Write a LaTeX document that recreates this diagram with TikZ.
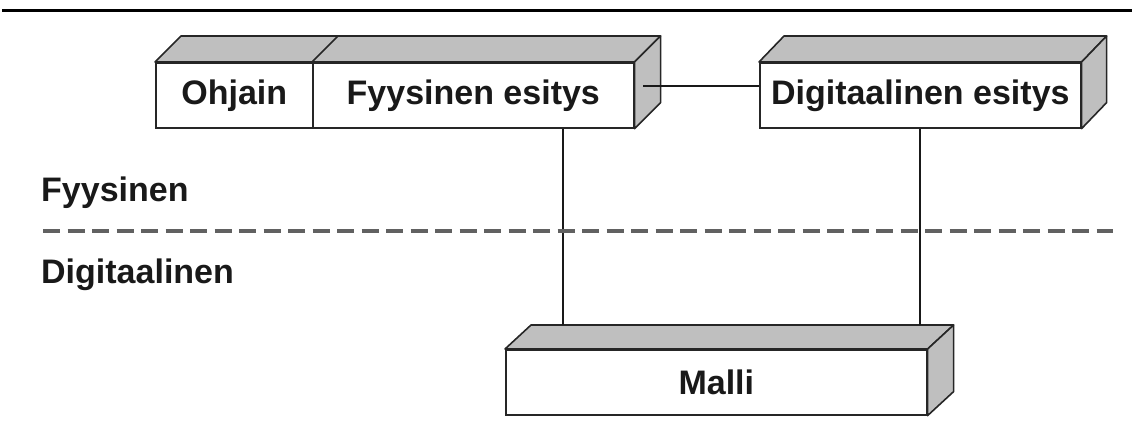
\documentclass[tikz,border=0pt]{standalone}
\usepackage{fontspec}
\setmainfont{Liberation Sans}
\begin{document}
\begin{tikzpicture}[x=1pt,y=-1pt,
  face/.style={draw=black!85, line width=1.6pt, fill=white, minimum height=65pt, inner sep=0pt, font=\fontsize{34}{40}\selectfont\bfseries, text=black!90, anchor=north west},
  topface/.style={draw=black!85, line width=1.6pt, fill=gray!50, line join=round},
  link/.style={draw=black!90, line width=1.4pt},
  band/.style={draw=black!62, line width=3.2pt, dash pattern=on 17pt off 7.5pt},
  lbl/.style={font=\fontsize{34}{40}\selectfont\bfseries, text=black!90, anchor=west, inner sep=0pt}
]
\useasboundingbox (0,0) rectangle (1134,437);
% top rule
\coordinate (r1) at (2,10.5);
\coordinate (r2) at (1132,10.5);
\draw[line width=3pt] (r1) -- (r2);

% front faces
\node[face, minimum width=157pt] (ohj) at (155,62) {Ohjain};
\node[face, minimum width=321pt] (fyy) at (312,62) {Fyysinen esitys};
\node[face, minimum width=321pt] (dig) at (759,62) {Digitaalinen esitys};
\node[face, minimum width=421pt] (mal) at (505,349) {Malli};

% 3D faces
\path[topface] (ohj.north west) -- ++(26,-26) -- ([shift={(26,-26)}]fyy.north east) -- (fyy.north east) -- cycle;
\draw[topface] (fyy.north west) -- ++(26,-26);
\path[topface] (fyy.north east) -- ++(26,-26) -- ([shift={(26,-26)}]fyy.south east) -- (fyy.south east) -- cycle;

\path[topface] (dig.north west) -- ++(25,-26) -- ([shift={(25,-26)}]dig.north east) -- (dig.north east) -- cycle;
\path[topface] (dig.north east) -- ++(25,-26) -- ([shift={(25,-26)}]dig.south east) -- (dig.south east) -- cycle;

\path[topface] (mal.north west) -- ++(26,-24) -- ([shift={(26,-24)}]mal.north east) -- (mal.north east) -- cycle;
\path[topface] (mal.north east) -- ++(26,-24) -- ([shift={(26,-24)}]mal.south east) -- (mal.south east) -- cycle;

% connectors
\coordinate (mback) at ([shift={(26,-24)}]mal.north west);
\coordinate (x1) at (563,0);
\coordinate (x2) at (920,0);
\draw[link] (fyy.south -| x1) -- (x1 |- mback);
\draw[link] (dig.south -| x2) -- (x2 |- mback);
\coordinate (hl) at (643,86);
\draw[link] (hl) -- (hl -| dig.west);

% layer labels
\node[lbl] (lf) at (41,193) {Fyysinen};
\node[lbl] (ld) at (41,275) {Digitaalinen};
\coordinate (d1) at (43,231);
\coordinate (d2) at (1113,231);
\draw[band] (d1) -- (d2);
\end{tikzpicture}
\end{document}
